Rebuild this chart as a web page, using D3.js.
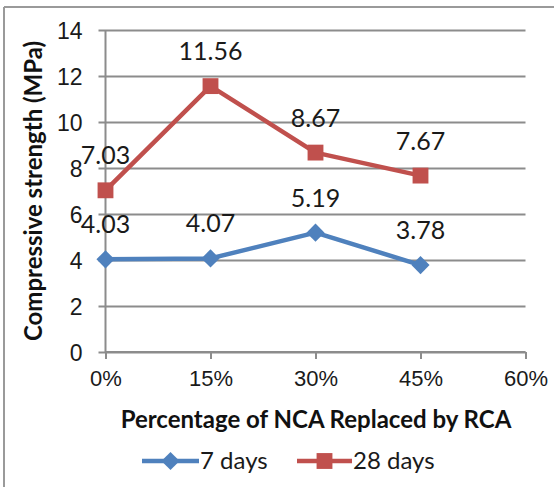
<!DOCTYPE html>
<html>
<head>
<meta charset="utf-8">
<script src="https://cdn.jsdelivr.net/npm/d3@7"></script>
<style>
  html, body { margin: 0; padding: 0; background: #fff; }
  svg { display: block; font-family: Lato, "Open Sans", sans-serif; }
</style>
</head>
<body>
<svg id="chart" width="554" height="487"></svg>
<script>
// Replacement levels (fraction of NCA replaced by RCA)
const replacement = [0, 0.15, 0.30, 0.45];
const days7 = [4.03, 4.07, 5.19, 3.78];
const days28 = [7.03, 11.56, 8.67, 7.67];
const xTicks = [0, 0.15, 0.30, 0.45, 0.60];
const yTicks = [0, 2, 4, 6, 8, 10, 12, 14];
const seriesNames = ["7 days", "28 days"];
const seriesColors = ["#4F81BD", "#C0504D"];

const svg = d3.select("#chart");
const W = 554, H = 487;
const plot = { left: 105.5, right: 525.5, top: 30, bottom: 352 };

const x = d3.scaleLinear().domain([0, 0.60]).range([plot.left, plot.right]);
const y = d3.scaleLinear().domain([0, 14]).range([plot.bottom, plot.top]);

// Chart frame (left and top edges)
svg.append("line").attr("x1", 4).attr("x2", 4).attr("y1", 7).attr("y2", H)
  .attr("stroke", "#9a9a9a").attr("stroke-width", 2);
svg.append("line").attr("x1", 4).attr("x2", W).attr("y1", 7).attr("y2", 7)
  .attr("stroke", "#9a9a9a").attr("stroke-width", 2);

// Horizontal gridlines with the y axis
const yAxis = d3.axisLeft(y).tickValues(yTicks).tickSize(plot.right - plot.left + 7)
  .tickPadding(16).tickFormat(d3.format("d"));
const gy = svg.append("g").attr("transform", `translate(${plot.right},0)`).call(yAxis);
gy.select(".domain").remove();
gy.selectAll(".tick line").attr("stroke", "#8c8c8c").attr("stroke-width", 2);
gy.selectAll(".tick text").attr("fill", "#1a1a1a").style("font-size", "23px")
  .attr("dy", "0.36em");

// Vertical y axis line
svg.append("line").attr("x1", plot.left).attr("x2", plot.left)
  .attr("y1", plot.top).attr("y2", plot.bottom)
  .attr("stroke", "#8c8c8c").attr("stroke-width", 2);

// X axis
const xAxis = d3.axisBottom(x).tickValues(xTicks).tickSize(7).tickPadding(11)
  .tickFormat(d3.format(".0%"));
const gx = svg.append("g").attr("transform", `translate(0,${plot.bottom})`).call(xAxis);
gx.select(".domain").attr("stroke", "#8c8c8c").attr("stroke-width", 2)
  .attr("d", `M${plot.left},0H${plot.right}`);
gx.selectAll(".tick line").attr("stroke", "#8c8c8c").attr("stroke-width", 2);
gx.selectAll(".tick text").attr("fill", "#1a1a1a").style("font-size", "22px");

// Axis titles
svg.append("text").attr("x", 316).attr("y", 428)
  .attr("text-anchor", "middle").style("font-size", "24px").style("font-weight", "bold")
  .attr("fill", "#111").text("Percentage of NCA Replaced by RCA");
svg.append("text")
  .attr("transform", `translate(42,${(plot.top + plot.bottom) / 2}) rotate(-90)`)
  .attr("text-anchor", "middle").style("font-size", "24px").style("font-weight", "bold")
  .attr("fill", "#111").text("Compressive strength (MPa)");

const line = d3.line().x((d, i) => x(replacement[i])).y(d => y(d));
const diamond = d3.symbol().type(d3.symbolDiamond2).size(210);
const square = d3.symbol().type(d3.symbolSquare2).size(320);

function drawSeries(values, color, sym) {
  svg.append("path").datum(values).attr("d", line).attr("fill", "none")
    .attr("stroke", color).attr("stroke-width", 4.5).attr("stroke-linejoin", "round");
  svg.selectAll(null).data(values).enter().append("path")
    .attr("d", sym)
    .attr("transform", (d, i) => `translate(${x(replacement[i])},${y(d)})`)
    .attr("fill", color);
  svg.selectAll(null).data(values).enter().append("text")
    .attr("x", (d, i) => x(replacement[i]))
    .attr("y", d => y(d) - 26)
    .attr("text-anchor", "middle").style("font-size", "25px").attr("fill", "#1a1a1a")
    .text(d => d.toFixed(2));
}
drawSeries(days7, seriesColors[0], diamond);
drawSeries(days28, seriesColors[1], square);

// Legend
const legendY = 461;
const legend = [
  { name: seriesNames[0], color: seriesColors[0], sym: diamond, x0: 142, x1: 199 },
  { name: seriesNames[1], color: seriesColors[1], sym: square, x0: 297, x1: 352 }
];
legend.forEach(l => {
  svg.append("line").attr("x1", l.x0).attr("x2", l.x1).attr("y1", legendY).attr("y2", legendY)
    .attr("stroke", l.color).attr("stroke-width", 4.5);
  svg.append("path").attr("d", l.sym)
    .attr("transform", `translate(${(l.x0 + l.x1) / 2},${legendY})`).attr("fill", l.color);
  svg.append("text").attr("x", l.x1 + 1).attr("y", legendY + 8)
    .style("font-size", "24px").attr("fill", "#1a1a1a").text(l.name);
});
</script>
</body>
</html>
